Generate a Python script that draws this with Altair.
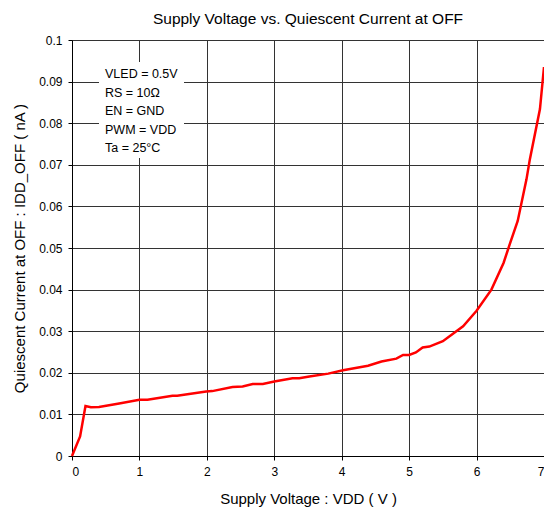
import altair as alt
import pandas as pd

vdd = [0.0, 0.12, 0.2, 0.28, 0.4, 0.7, 1.0, 1.12, 1.49, 1.56, 1.99, 2.08, 2.38, 2.53, 2.68, 2.83,
       3.0, 3.27, 3.37, 3.52, 3.8, 4.02, 4.39, 4.59, 4.81, 4.91, 5.0, 5.1, 5.2, 5.3, 5.5, 5.65,
       5.8, 6.0, 6.22, 6.4, 6.49, 6.61, 6.74, 6.79, 6.94, 7.0]
idd = [0.0, 0.0047, 0.012, 0.0117, 0.0118, 0.0126, 0.0135, 0.0135, 0.0145, 0.0145, 0.0155, 0.0156,
       0.0166, 0.0167, 0.0173, 0.0173, 0.0179, 0.0187, 0.0187, 0.0191, 0.0198, 0.0206, 0.0217,
       0.0227, 0.0234, 0.0243, 0.0243, 0.0249, 0.0261, 0.0263, 0.0276, 0.0294, 0.0312, 0.0349,
       0.040, 0.0464, 0.0508, 0.0565, 0.0665, 0.0713, 0.0834, 0.0935]

notes = ["VLED = 0.5V", "RS = 10Ω", "EN = GND", "PWM = VDD", "Ta = 25°C"]

df = pd.DataFrame({"vdd": vdd, "idd": idd})
FONT = "Liberation Sans"

x = alt.X("vdd:Q", scale=alt.Scale(domain=[0, 7], nice=False),
          axis=alt.Axis(values=list(range(8)), title="Supply Voltage : VDD ( V )",
                        titleFontSize=15, titleFontWeight="normal", titleFont=FONT, titleColor="black",
                        labelFont=FONT, labelFontSize=12, labelColor="black", labelPadding=6,
                        tickSize=4, tickColor="black", domainColor="black", titlePadding=14,
                        gridColor="#333", gridOpacity=1, gridWidth=1))
y = alt.Y("idd:Q", scale=alt.Scale(domain=[0, 0.1], nice=False),
          axis=alt.Axis(values=[i / 100 for i in range(11)], format="~g",
                        title="Quiescent Current at OFF : IDD_OFF ( nA )",
                        titleFontSize=15, titleFontWeight="normal", titleFont=FONT, titleColor="black",
                        labelFont=FONT, labelFontSize=12, labelColor="black", labelPadding=6,
                        tickSize=4, tickColor="black", domainColor="black", titlePadding=11,
                        gridColor="#333", gridOpacity=1, gridWidth=1))

line = alt.Chart(df).mark_line(color="#ff0000", strokeWidth=2.5).encode(x=x, y=y)

box = alt.Chart(pd.DataFrame({"a": [0]})).mark_rect(color="white").encode(
    x=alt.value(27), x2=alt.value(112), y=alt.value(22), y2=alt.value(118))

ndf = pd.DataFrame({"t": notes, "i": list(range(len(notes)))})
txt = alt.Chart(ndf).mark_text(align="left", baseline="middle", font=FONT, fontSize=12.5,
                               color="black").encode(
    x=alt.value(33),
    y=alt.Y("i:Q", scale=alt.Scale(domain=[0, len(notes) - 1], range=[34, 108]), axis=None),
    text="t:N")

chart = alt.layer(line, box, txt).resolve_scale(y="independent").properties(
    width=472, height=416,
    title=alt.TitleParams("Supply Voltage vs. Quiescent Current at OFF", font=FONT, fontSize=15.5,
                          fontWeight="normal", color="black", offset=7),
    autosize=alt.AutoSizeParams(type="none"),
    padding={"left": 64, "top": 32, "right": 0, "bottom": 52},
).configure_view(stroke="black", strokeWidth=1.5).configure(background="white")

chart.save("out.html", embed_options={"renderer": "svg", "actions": False})
